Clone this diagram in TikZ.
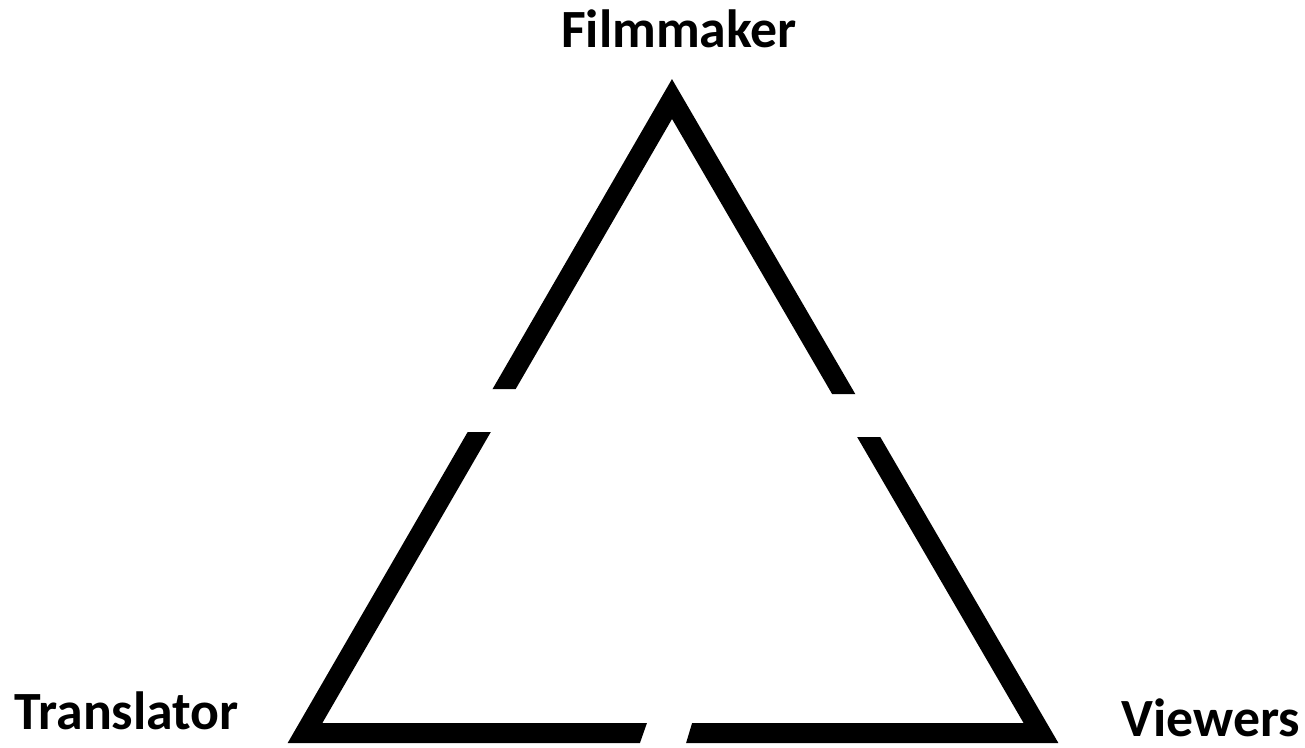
\documentclass[tikz,border=0pt]{standalone}
\usepackage{fontspec}
\setmainfont{Carlito}
\tikzset{
    side/.style={line width=0.2cm, line join=miter},
    role/.style={font=\bfseries\fontsize{15.3}{18}\selectfont, inner sep=0pt}
}

\begin{document}
\begin{tikzpicture}[x=0.01cm, y=-0.01cm]
    \useasboundingbox (0, 0) rectangle (1305, 747);

    % Cantos do triangulo
    \coordinate (apex) at (672, 99);
    \coordinate (left) at (305, 733);
    \coordinate (right) at (1041, 733);

    % Papeis
    \node[role, anchor=base] (filmmaker) at (679, 47) {Filmmaker};
    \node[role, anchor=base west] (translator) at (14, 729) {Translator};
    \node[role, anchor=base west] (viewers) at (1121, 736) {Viewers};

    % Lados, com as falhas
    \begin{scope}
        \clip (0, 0) -- (1305, 0) -- (1305, 394) -- (672, 394) -- (672, 389) -- (0, 389) -- cycle;
        \draw[side] (left) -- (apex) -- (right) -- cycle;
    \end{scope}
    \begin{scope}
        \clip (0, 432) -- (672, 432) -- (672, 700) -- (655, 700) -- (634, 760) -- (0, 760) -- cycle;
        \draw[side] (left) -- (apex) -- (right) -- cycle;
    \end{scope}
    \begin{scope}
        \clip (1305, 437) -- (672, 437) -- (672, 700) -- (699, 700) -- (681, 760) -- (1305, 760) -- cycle;
        \draw[side] (left) -- (apex) -- (right) -- cycle;
    \end{scope}
\end{tikzpicture}
\end{document}
